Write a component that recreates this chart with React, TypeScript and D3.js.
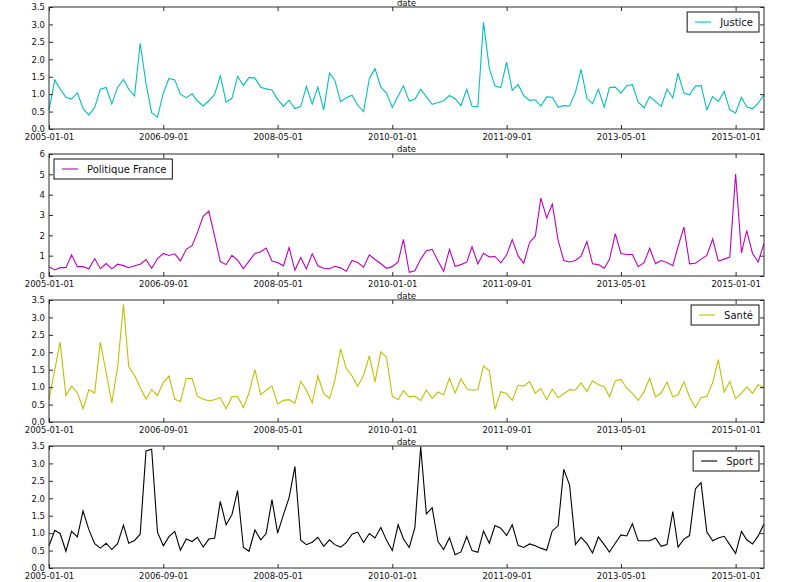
import { useEffect, useRef } from 'react';
import * as d3 from 'd3';

const months = d3.timeMonth.range(new Date(2005, 0, 1), new Date(2015, 6, 1));
const tickLabels = ['2005-01-01', '2006-09-01', '2008-05-01', '2010-01-01', '2011-09-01', '2013-05-01', '2015-01-01'];

const justice = [
  0.55, 1.41, 1.15, 0.91, 0.86, 1.04, 0.59, 0.4, 0.62, 1.14,
  1.19, 0.72, 1.2, 1.42, 1.14, 0.95, 2.46, 1.3, 0.47, 0.34,
  1.03, 1.45, 1.41, 1.0, 0.9, 1.01, 0.81, 0.66, 0.81, 0.99,
  1.53, 0.77, 0.88, 1.51, 1.25, 1.48, 1.46, 1.2, 1.15, 1.12,
  0.85, 0.65, 0.83, 0.58, 0.65, 1.22, 0.72, 1.2, 0.55, 1.6,
  1.4, 0.78, 0.9, 0.97, 0.68, 0.5, 1.45, 1.73, 1.2, 1.03,
  0.62, 0.95, 1.24, 0.8, 0.85, 1.14, 0.93, 0.71, 0.76, 0.81,
  0.96, 0.87, 0.67, 1.14, 0.65, 0.64, 3.06, 1.74, 1.23, 1.19,
  1.92, 1.11, 1.28, 0.96, 0.82, 0.84, 0.66, 0.92, 0.91, 0.63,
  0.67, 0.66, 1.05, 1.71, 0.88, 0.73, 1.14, 0.63, 1.19, 1.2,
  1.03, 1.24, 1.27, 0.77, 0.61, 0.93, 0.79, 0.65, 1.14, 0.89,
  1.6, 1.03, 0.98, 1.23, 1.25, 0.55, 0.93, 0.79, 1.08, 0.55,
  0.46, 0.91, 0.64, 0.58, 0.74, 0.98,
];

const politique = [
  0.45, 0.3, 0.41, 0.41, 1.04, 0.46, 0.46, 0.35, 0.86, 0.36,
  0.61, 0.35, 0.58, 0.51, 0.41, 0.5, 0.58, 0.81, 0.38, 0.86,
  1.11, 1.01, 1.09, 0.74, 1.31, 1.49, 2.12, 2.94, 3.19, 1.95,
  0.71, 0.56, 1.02, 0.78, 0.36, 0.73, 1.11, 1.19, 1.37, 0.74,
  0.66, 0.5, 1.4, 0.28, 0.91, 0.35, 1.09, 0.5, 0.38, 0.36,
  0.48, 0.4, 0.23, 0.76, 0.66, 0.43, 1.04, 0.81, 0.6, 0.38,
  0.46, 0.69, 1.8, 0.18, 0.26, 0.83, 1.24, 1.31, 0.74, 0.23,
  1.31, 0.48, 0.56, 0.68, 1.44, 0.6, 1.12, 0.94, 0.96, 0.64,
  1.04, 1.79, 0.99, 0.63, 1.65, 1.97, 3.83, 2.86, 3.54, 1.75,
  0.76, 0.69, 0.76, 0.98, 1.7, 0.6, 0.56, 0.38, 0.81, 2.08,
  1.11, 1.06, 1.06, 0.46, 0.66, 1.36, 0.61, 0.76, 0.66, 0.51,
  1.45, 2.4, 0.6, 0.63, 0.83, 1.01, 1.82, 0.73, 0.83, 0.93,
  5.02, 1.14, 2.23, 1.11, 0.69, 1.6,
];

const sante = [
  0.65, 1.5, 2.29, 0.76, 1.03, 0.84, 0.38, 0.93, 0.83, 2.29,
  1.42, 0.55, 1.57, 3.38, 1.59, 1.34, 0.99, 0.66, 0.93, 0.76,
  1.13, 1.32, 0.65, 0.59, 1.25, 1.25, 0.74, 0.65, 0.61, 0.64,
  0.7, 0.38, 0.72, 0.73, 0.41, 0.84, 1.5, 0.78, 0.91, 1.03,
  0.52, 0.62, 0.64, 0.54, 1.16, 0.91, 0.55, 1.32, 0.81, 0.68,
  1.18, 2.1, 1.54, 1.32, 1.02, 1.34, 1.9, 1.15, 2.01, 1.86,
  0.74, 0.64, 0.9, 0.72, 0.74, 0.62, 0.92, 0.68, 0.86, 0.78,
  1.26, 0.83, 1.24, 0.95, 0.91, 0.93, 1.61, 1.47, 0.36, 0.87,
  0.82, 0.62, 1.06, 1.03, 1.16, 0.83, 0.96, 0.64, 0.94, 0.7,
  0.81, 0.93, 0.92, 1.12, 0.87, 1.18, 1.07, 1.02, 0.72, 1.18,
  1.22, 0.97, 0.82, 0.62, 0.87, 1.26, 0.72, 0.83, 1.14, 0.72,
  0.78, 1.15, 0.72, 0.41, 0.7, 0.73, 1.13, 1.79, 0.86, 1.16,
  0.67, 0.82, 1.01, 0.82, 1.07, 0.99,
];

const sport = [
  0.64, 1.08, 0.99, 0.48, 1.05, 0.89, 1.64, 1.1, 0.7, 0.57,
  0.71, 0.53, 0.7, 1.23, 0.71, 0.79, 0.97, 3.36, 3.41, 1.03,
  0.64, 0.9, 1.05, 0.51, 0.83, 0.76, 0.88, 0.6, 0.83, 0.85,
  1.91, 1.24, 1.53, 2.22, 0.59, 0.48, 1.09, 0.81, 0.99, 1.96,
  1.0, 1.53, 2.02, 2.91, 0.8, 0.67, 0.74, 0.88, 0.62, 0.81,
  0.67, 0.6, 0.73, 0.97, 1.03, 0.73, 0.99, 0.86, 1.16, 0.8,
  0.5, 1.24, 0.84, 0.59, 1.16, 3.48, 1.55, 1.73, 0.76, 0.53,
  0.87, 0.38, 0.46, 0.9, 0.5, 0.45, 1.06, 0.71, 1.22, 1.14,
  0.93, 1.24, 0.65, 0.59, 0.69, 0.64, 0.57, 0.51, 1.07, 1.21,
  2.83, 2.38, 0.67, 0.88, 0.7, 0.43, 0.89, 0.67, 0.46, 0.71,
  0.95, 0.92, 1.27, 0.78, 0.78, 0.78, 0.86, 0.62, 0.67, 1.62,
  0.6, 0.83, 0.93, 2.27, 2.45, 1.03, 0.78, 0.86, 0.91, 0.67,
  0.42, 1.05, 0.81, 0.69, 0.92, 1.26,
];

const panels = [
  { name: 'Justice', values: justice, color: '#00bfbf', yMax: 3.5, yTicks: d3.range(0, 3.51, 0.5), fmt: '.1f', legend: 'right' },
  { name: 'Politique France', values: politique, color: '#bf00bf', yMax: 6, yTicks: d3.range(0, 7, 1), fmt: 'd', legend: 'left' },
  { name: 'Santé', values: sante, color: '#bfbf00', yMax: 3.5, yTicks: d3.range(0, 3.51, 0.5), fmt: '.1f', legend: 'right' },
  { name: 'Sport', values: sport, color: '#000000', yMax: 3.5, yTicks: d3.range(0, 3.51, 0.5), fmt: '.1f', legend: 'right' },
];

const W = 800;
const H = 582;
const left = 49;
const right = 764;
const tops = [7, 154, 300, 446];
const panelH = 122;
const font = '"DejaVu Sans", sans-serif';
const frameColor = '#2a2a2a';

const App = () => {
  const svgRef = useRef<SVGSVGElement>(null);

  useEffect(() => {
    const svg = d3.select(svgRef.current);
    svg.selectAll('*').remove();

    const parse = d3.timeParse('%Y-%m-%d');
    const tickDates = tickLabels.map((t) => parse(t) as Date);

    const x = d3
      .scaleTime()
      .domain([months[0], months[months.length - 1]])
      .range([left, right]);

    const xLabel = (yPos: number) =>
      svg
        .append('text')
        .attr('x', (left + right) / 2)
        .attr('y', yPos)
        .attr('text-anchor', 'middle')
        .style('font-family', font)
        .style('font-size', '8.5px')
        .attr('fill', '#111')
        .text('date');

    // axis label left over from the cropped plot above
    xLabel(6);

    panels.forEach((p, k) => {
      const top = tops[k];
      const bottom = top + panelH;
      const y = d3.scaleLinear().domain([0, p.yMax]).range([bottom, top]);
      const g = svg.append('g');

      const line = d3
        .line<number>()
        .x((_, i) => x(months[i]))
        .y((d) => y(d));

      g.append('path')
        .attr('d', line(p.values))
        .attr('fill', 'none')
        .attr('stroke', p.color)
        .attr('stroke-width', 1.1);

      const styleAxis = (a: d3.Selection<SVGGElement, unknown, null, undefined>) => {
        a.attr('font-family', font).attr('font-size', 8.5).attr('color', frameColor);
        a.select('.domain').remove();
        a.selectAll('text').attr('fill', '#111');
      };

      g.append('g')
        .attr('transform', `translate(${left},0)`)
        .call(
          d3.axisLeft(y).tickValues(p.yTicks).tickFormat(d3.format(p.fmt)).tickSizeInner(-4).tickSizeOuter(0).tickPadding(4),
        )
        .call(styleAxis);

      g.append('g')
        .attr('transform', `translate(${right},0)`)
        .call(d3.axisRight(y).tickValues(p.yTicks).tickFormat(() => '').tickSizeInner(-4).tickSizeOuter(0))
        .call(styleAxis);

      g.append('g')
        .attr('transform', `translate(0,${bottom})`)
        .call(
          d3.axisBottom(x).tickValues(tickDates).tickFormat((d) => d3.timeFormat('%Y-%m-%d')(d as Date)).tickSizeInner(-4).tickSizeOuter(0).tickPadding(5),
        )
        .call(styleAxis);

      g.append('g')
        .attr('transform', `translate(0,${top})`)
        .call(d3.axisTop(x).tickValues(tickDates).tickFormat(() => '').tickSizeInner(-4).tickSizeOuter(0))
        .call(styleAxis);

      g.append('rect')
        .attr('x', left)
        .attr('y', top)
        .attr('width', right - left)
        .attr('height', panelH)
        .attr('fill', 'none')
        .attr('stroke', frameColor)
        .attr('stroke-width', 1);

      // the last panel's "date" falls below the picture
      if (bottom + 23 < H - 4) xLabel(bottom + 23);

      // legend
      const lg = g.append('g');
      const box = lg.append('rect');
      const label = lg
        .append('text')
        .style('font-family', font)
        .style('font-size', '10px')
        .attr('fill', '#111')
        .attr('dominant-baseline', 'central')
        .text(p.name);
      const tw = (label.node() as SVGTextElement).getComputedTextLength();
      const bw = 33 + tw + 6;
      const bx = p.legend === 'left' ? left + 5 : right - 5 - bw;
      const by = top + 5;
      box
        .attr('x', bx)
        .attr('y', by)
        .attr('width', bw)
        .attr('height', 20)
        .attr('fill', '#fff')
        .attr('stroke', '#111')
        .attr('stroke-width', 1);
      lg.append('line')
        .attr('x1', bx + 8)
        .attr('x2', bx + 24)
        .attr('y1', by + 10)
        .attr('y2', by + 10)
        .attr('stroke', p.color)
        .attr('stroke-width', 1.1);
      label.attr('x', bx + 33).attr('y', by + 10.5);
    });
  }, []);

  return (
    <svg
      width={W}
      height={H}
      ref={svgRef}
      style={{ position: 'absolute', left: 0, top: 0, background: '#fff' }}
    />
  );
};

export default App;
